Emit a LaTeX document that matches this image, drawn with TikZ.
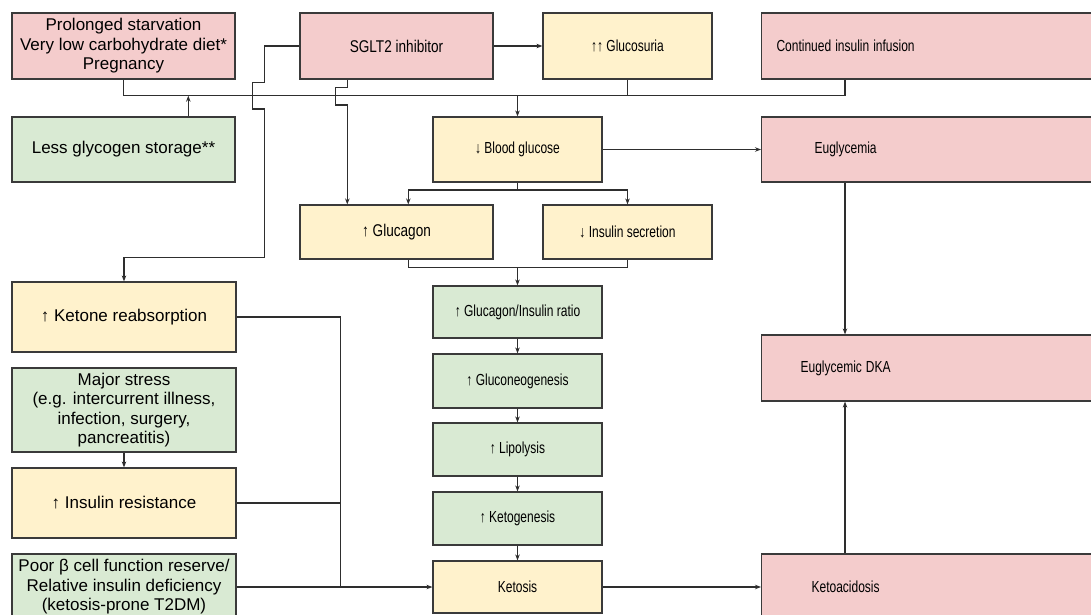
\documentclass[tikz,border=0pt]{standalone}
\usepackage{fontspec}
\usepackage{graphicx}
\setmainfont{Liberation Sans}
\usetikzlibrary{arrows.meta}
\definecolor{pinkc}{HTML}{F4CCCC}
\definecolor{yelc}{HTML}{FFF2CC}
\definecolor{grnc}{HTML}{D9EAD3}
\definecolor{edgec}{HTML}{3A3A3A}
\definecolor{linec}{HTML}{2E2E2E}
\newcommand\condB[1]{\scalebox{0.80}[1]{#1}}
\newcommand\condC[1]{\scalebox{0.75}[1]{#1}}
\begin{document}
\begin{tikzpicture}[x=1pt,y=-1pt,
  box/.style={draw=edgec, line width=1.2pt, rectangle, inner sep=0pt, align=center,
    font=\fontsize{17}{19.5}\selectfont},
  pinkbox/.style={box, fill=pinkc},
  yelbox/.style={box, fill=yelc},
  grnbox/.style={box, fill=grnc},
  midfont/.style={font=\fontsize{16}{19.5}\selectfont},
  rbox/.style={pinkbox, midfont, anchor=west, minimum width=339pt, text width=339pt, align=left, inner xsep=0pt},
  conn/.style={draw=linec, line width=1.2pt},
  arr/.style={conn, -{Stealth[length=6pt,width=4.5pt]}}
]
\useasboundingbox (0,0) rectangle (1091,615);
\fill[white] (0,0) rectangle (1091,615);

% left column
\node[pinkbox, minimum width=223pt, minimum height=66pt] (starv) at (123.5,46) {Prolonged starvation\\Very low carbohydrate diet*\\Pregnancy};
\node[grnbox, minimum width=223pt, minimum height=65pt] (glyco) at (123.5,149.5) {Less glycogen storage**};
\node[yelbox, minimum width=224pt, minimum height=70pt] (ketre) at (124,317) {↑ Ketone reabsorption};
\node[grnbox, minimum width=224pt, minimum height=84pt] (stress) at (124,410) {Major stress\\(e.g. intercurrent illness,\\infection, surgery,\\pancreatitis)};
\node[yelbox, minimum width=224pt, minimum height=70pt] (insres) at (124,503) {↑ Insulin resistance};
\node[grnbox, minimum width=224pt, minimum height=66pt] (poor) at (124,587) {Poor β cell function reserve/\\Relative insulin deficiency\\(ketosis-prone T2DM)};

% second column
\node[pinkbox, minimum width=193pt, minimum height=66pt] (sglt) at (396.5,46) {\condB{SGLT2 inhibitor}};
\node[yelbox, minimum width=193pt, minimum height=54pt] (glucagon) at (396.5,232) {\condB{↑ Glucagon}};

% middle
\node[yelbox, midfont, minimum width=169pt, minimum height=66pt] (gluc) at (627.5,46) {\condC{↑↑ Glucosuria}};
\node[yelbox, midfont, minimum width=169pt, minimum height=65pt] (bg) at (517.5,149.5) {\condC{↓ Blood glucose}};
\node[yelbox, midfont, minimum width=169pt, minimum height=54pt] (inssec) at (627.5,232) {\condC{↓ Insulin secretion}};
\node[grnbox, midfont, minimum width=169pt, minimum height=52pt] (ratio) at (517.5,312) {\condC{↑ Glucagon/Insulin ratio}};
\node[grnbox, midfont, minimum width=169pt, minimum height=54pt] (gneo) at (517.5,381) {\condC{↑ Gluconeogenesis}};
\node[grnbox, midfont, minimum width=169pt, minimum height=53pt] (lipo) at (517.5,449.5) {\condC{↑ Lipolysis}};
\node[grnbox, midfont, minimum width=169pt, minimum height=53pt] (ketog) at (517.5,518.5) {\condC{↑ Ketogenesis}};
\node[yelbox, midfont, minimum width=169pt, minimum height=52pt] (ketosis) at (517.5,587) {\condC{Ketosis}};

% right column
\node[rbox, minimum height=66pt] (insinf) at (761,46) {\makebox[168pt]{\condC{Continued insulin infusion}}};
\node[rbox, minimum height=65pt] (eug) at (761,149.5) {\makebox[168pt]{\condC{Euglycemia}}};
\node[rbox, minimum height=66pt] (edka) at (761,368) {\makebox[168pt]{\condC{Euglycemic DKA}}};
\node[rbox, minimum height=66pt] (ketoac) at (761,587) {\makebox[168pt]{\condC{Ketoacidosis}}};

% helper coordinates
\coordinate (bus) at (0,95.7);
\coordinate (rc) at (845,0);
\coordinate (gx) at (188.3,0);
\coordinate (sx1) at (264.7,0);
\coordinate (sx2) at (347.3,0);
\coordinate (gcx) at (408.3,0);
\coordinate (split) at (0,190);
\coordinate (join) at (0,267.7);
\coordinate (vx) at (340.7,0);

% top bus
\draw[conn] (starv.south) -- (starv.south |- bus) -- (bus -| rc) -- (insinf.south -| rc);
\draw[conn] (gluc.south) -- (gluc.south |- bus);
\draw[arr] (bg.north |- bus) -- (bg.north);
\draw[arr] (glyco.north -| gx) -- (gx |- bus);

% SGLT2 connectors
\draw[arr] (sglt.east) -- (gluc.west);
\draw[arr] (sglt.west) -- (sglt.west -| sx1) -- (264.7,82.7) -- (252.7,82.7) -- (252.7,109) -- (264.7,109) -- (264.7,257.7) -- (ketre.north |- 0,257.7) -- (ketre.north);
\draw[arr] (sglt.south -| sx2) -- (347.3,87.3) -- (335.3,87.3) -- (335.3,105) -- (347.3,105) -- (glucagon.north -| sx2);

% blood glucose
\draw[arr] (bg.east) -- (eug.west);
\draw[conn] (bg.south) -- (bg.south |- split);
\draw[arr] (bg.south |- split) -| (glucagon.north -| gcx);
\draw[arr] (bg.south |- split) -| (inssec.north);
\draw[conn] (glucagon.south -| gcx) -- (gcx |- join) -- (inssec.south |- join) -- (inssec.south);
\draw[arr] (ratio.north |- join) -- (ratio.north);

% chain
\draw[arr] (ratio) -- (gneo);
\draw[arr] (gneo) -- (lipo);
\draw[arr] (lipo) -- (ketog);
\draw[arr] (ketog) -- (ketosis);
\draw[arr] (ketosis.east) -- (ketoac.west);

% right
\draw[arr] (eug.south -| rc) -- (edka.north -| rc);
\draw[arr] (ketoac.north -| rc) -- (edka.south -| rc);

% left contributions
\draw[conn] (ketre.east) -- (ketre.east -| vx) -- (vx |- poor.east);
\draw[conn] (insres.east) -- (insres.east -| vx);
\draw[arr] (poor.east) -- (ketosis.west);
\draw[arr] (stress.south) -- (insres.north);
\end{tikzpicture}
\end{document}
